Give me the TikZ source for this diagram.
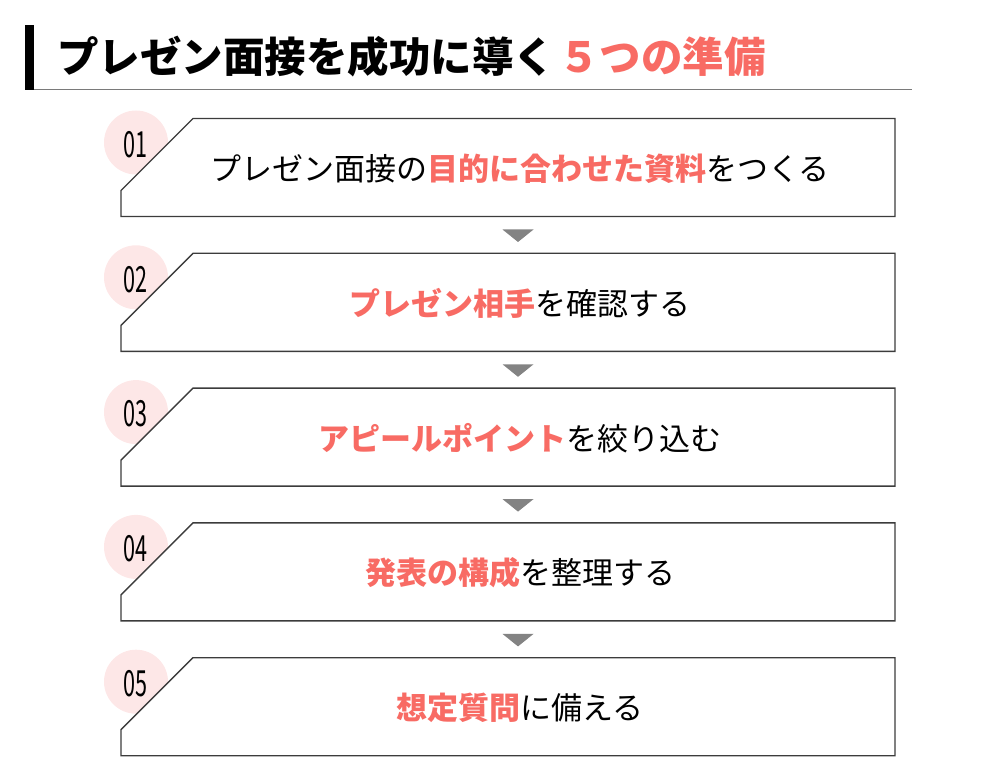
\documentclass[tikz,border=0pt]{standalone}
\usepackage{fontspec}
\usepackage{graphicx}
\setmainfont{Noto Sans CJK JP}
\definecolor{accent}{HTML}{F86B64}
\definecolor{pinkbg}{HTML}{FDE7E7}
\definecolor{arrowgray}{HTML}{838383}
\definecolor{linegray}{HTML}{3C3C3C}
\definecolor{rulegray}{HTML}{7A7A7A}
\tikzset{
  stepbox/.style={draw=linegray, line width=1.4pt, fill=white},
  numcircle/.style={circle, fill=pinkbg, minimum size=64pt, inner sep=0pt},
  numtext/.style={inner sep=0pt, font=\fontsize{36}{40}\selectfont},
  steptext/.style={inner sep=0pt, font=\fontsize{31}{34}\selectfont},
  downtri/.style={fill=arrowgray},
}
\newcommand{\hl}[1]{{\bfseries\color{accent}#1}}
\newcommand{\numlabel}[1]{\scalebox{0.6}[1]{#1}}
\begin{document}
\begin{tikzpicture}[x=1pt,y=-1pt]
\useasboundingbox (0,0) rectangle (1000,783);
% title
\fill[black] (25,25) rectangle (34,90);
\draw[rulegray, line width=1.6pt] (34,89.5) -- (912,89.5);
\node[anchor=west, inner sep=0pt, font=\fontsize{41.5}{46}\selectfont\bfseries] (title) at (57,57)
  {プレゼン面接を成功に導く\hspace{3pt}{\color{accent}５つの準備}};
% steps
\foreach \i/\num/\txt in {
  0/01/{プレゼン面接の\hl{目的に合わせた資料}をつくる},
  1/02/{\hl{プレゼン相手}を確認する},
  2/03/{\hl{アピールポイント}を絞り込む},
  3/04/{\hl{発表の構成}を整理する},
  4/05/{\hl{想定質問}に備える}} {
  \pgfmathsetmacro{\T}{118.5+134.8*\i}
  \node[numcircle] (c\num) at (136,\T+24) {};
  \draw[stepbox] (193,\T) -- (895,\T) -- (895,\T+98) -- (121,\T+98) -- (121,\T+72) -- cycle;
  \node[numtext] (n\num) at (135.5,\T+26) {\numlabel{\num}};
  \node[steptext] (t\num) at (520,\T+50) {\txt};
}
% arrows
\foreach \i in {0,1,2,3} {
  \pgfmathsetmacro{\T}{118.5+134.8*\i}
  \coordinate (a\i) at (518,\T+111);
  \fill[downtri] ([xshift=-15.5pt]a\i) -- ([xshift=15.5pt]a\i) -- ([yshift=-12.5pt]a\i) -- cycle;
}
\end{tikzpicture}
\end{document}
